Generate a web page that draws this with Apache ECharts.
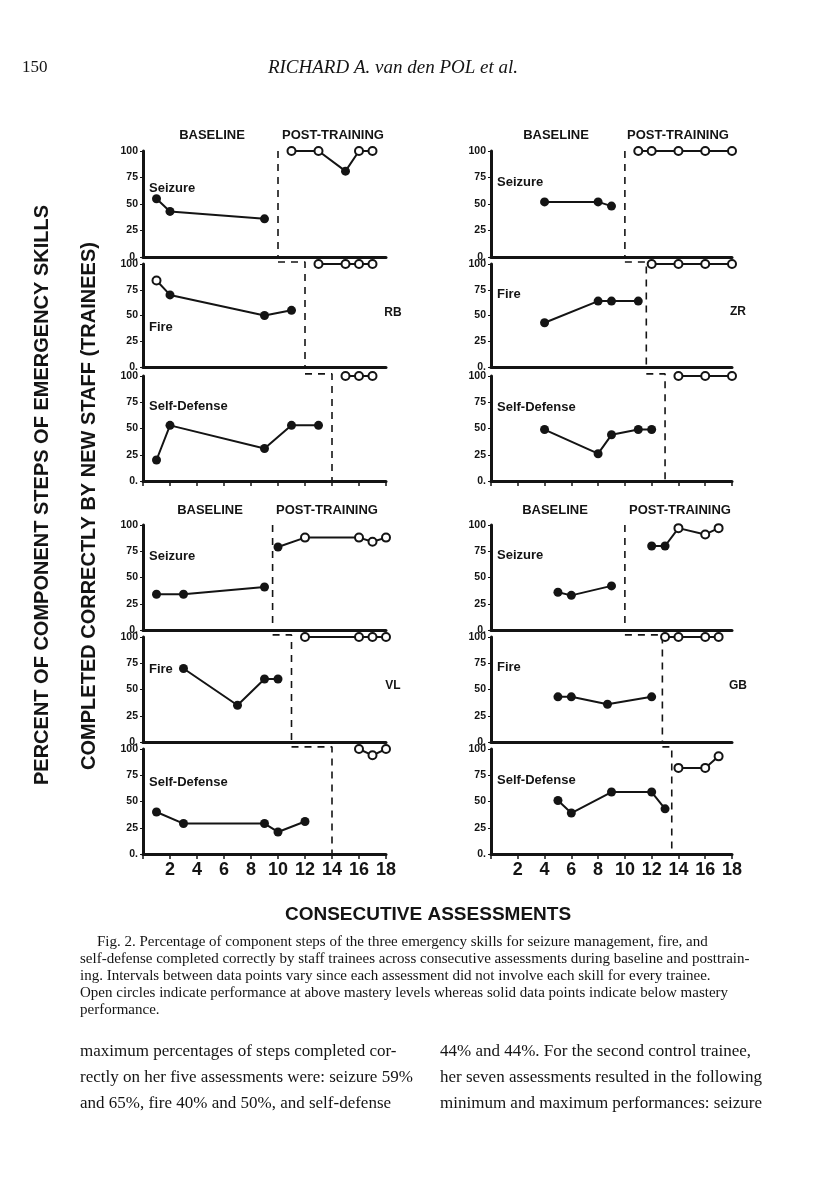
<!DOCTYPE html>
<html>
<head>
<meta charset="utf-8">
<script src="https://cdn.jsdelivr.net/npm/echarts@6/dist/echarts.min.js"></script>
<style>
html,body{margin:0;padding:0;background:#fff;}
#chart{width:816px;height:1195px;}
</style>
</head>
<body>
<div id="chart"></div>
<script>
// ---- data: [assessment, percent, open(1)/solid(0)] ----
const RB_seizure_base = [[1,55,0],[2,43,0],[9,36,0]];
const RB_seizure_post = [[11,100,1],[13,100,1],[15,81,0],[16,100,1],[17,100,1]];
const RB_fire_base = [[1,84,1],[2,70,0],[9,50,0],[11,55,0]];
const RB_fire_post = [[13,100,1],[15,100,1],[16,100,1],[17,100,1]];
const RB_sd_base = [[1,20,0],[2,53,0],[9,31,0],[11,53,0],[13,53,0]];
const RB_sd_post = [[15,100,1],[16,100,1],[17,100,1]];
const RB_phase = [10, 12, 14];

const ZR_seizure_base = [[4,52,0],[8,52,0],[9,48,0]];
const ZR_seizure_post = [[11,100,1],[12,100,1],[14,100,1],[16,100,1],[18,100,1]];
const ZR_fire_base = [[4,43,0],[8,64,0],[9,64,0],[11,64,0]];
const ZR_fire_post = [[12,100,1],[14,100,1],[16,100,1],[18,100,1]];
const ZR_sd_base = [[4,49,0],[8,26,0],[9,44,0],[11,49,0],[12,49,0]];
const ZR_sd_post = [[14,100,1],[16,100,1],[18,100,1]];
const ZR_phase = [10, 11.6, 13];

const VL_seizure_base = [[1,34,0],[3,34,0],[9,41,0]];
const VL_seizure_post = [[10,79,0],[12,88,1],[16,88,1],[17,84,1],[18,88,1]];
const VL_fire_base = [[3,70,0],[7,35,0],[9,60,0],[10,60,0]];
const VL_fire_post = [[12,100,1],[16,100,1],[17,100,1],[18,100,1]];
const VL_sd_base = [[1,40,0],[3,29,0],[9,29,0],[10,21,0],[12,31,0]];
const VL_sd_post = [[16,100,1],[17,94,1],[18,100,1]];
const VL_phase = [9.6, 11, 14];

const GB_seizure_base = [[5,36,0],[6,33,0],[9,42,0]];
const GB_seizure_post = [[12,80,0],[13,80,0],[14,97,1],[16,91,1],[17,97,1]];
const GB_fire_base = [[5,43,0],[6,43,0],[8.7,36,0],[12,43,0]];
const GB_fire_post = [[13,100,1],[14,100,1],[16,100,1],[17,100,1]];
const GB_sd_base = [[5,51,0],[6,39,0],[9,59,0],[12,59,0],[13,43,0]];
const GB_sd_post = [[14,82,1],[16,82,1],[17,93,1]];
const GB_phase = [10, 12.8, 13.5];

const yTicks = [0, 25, 50, 75, 100];
const xTickLabels = ['2','4','6','8','10','12','14','16','18'];
const skills = ['Seizure', 'Fire', 'Self-Defense'];
const trainees = ['RB', 'ZR', 'VL', 'GB'];
const phaseTitles = ['BASELINE', 'POST-TRAINING'];

// ---- layout ----
const cols = [{left:143, width:243}, {left:491, width:241}];
const blocks = [
  [[151,257],[264,367],[376,481]],
  [[525,630],[637,742],[749,854]]
];
const panels = [
  {name:'RB', col:0, block:0, data:[[RB_seizure_base,RB_seizure_post],[RB_fire_base,RB_fire_post],[RB_sd_base,RB_sd_post]], phase:RB_phase,
   labelY:[190,329,408], nameXY:[393,313]},
  {name:'ZR', col:1, block:0, data:[[ZR_seizure_base,ZR_seizure_post],[ZR_fire_base,ZR_fire_post],[ZR_sd_base,ZR_sd_post]], phase:ZR_phase,
   labelY:[184,296,409], nameXY:[738,312]},
  {name:'VL', col:0, block:1, data:[[VL_seizure_base,VL_seizure_post],[VL_fire_base,VL_fire_post],[VL_sd_base,VL_sd_post]], phase:VL_phase,
   labelY:[558,671,784], nameXY:[393,686]},
  {name:'GB', col:1, block:1, data:[[GB_seizure_base,GB_seizure_post],[GB_fire_base,GB_fire_post],[GB_sd_base,GB_sd_post]], phase:GB_phase,
   labelY:[557,669,782], nameXY:[738,686]}
];

const INK = '#141414';
const SANS = '"Liberation Sans", Arial, Helvetica, sans-serif';
const SERIF = '"Liberation Serif", "Times New Roman", serif';

const grid = [], xAxis = [], yAxis = [], series = [], graphic = [];

function pt(p){
  const open = p[2] === 1;
  return {
    value:[p[0], p[1]],
    symbolSize: open ? 8 : 9,
    itemStyle: open ? {color:'#fff', borderColor:INK, borderWidth:2} : {color:INK, borderColor:INK, borderWidth:0}
  };
}

panels.forEach(function(P){
  const c = cols[P.col];
  for (let s = 0; s < 3; s++) {
    const r = blocks[P.block][s];
    const gi = grid.length;
    grid.push({left:c.left, top:r[0], width:c.width, height:r[1]-r[0]});
    const isBottom = s === 2;
    const showLabels = isBottom && P.block === 1;
    xAxis.push({
      type:'value', gridIndex:gi, min:0, max:18, interval:2,
      axisLine:{show:true, onZero:false, lineStyle:{color:INK, width:3}},
      axisTick:{show:isBottom, inside:false, length:5, lineStyle:{color:INK, width:1.5}},
      axisLabel:{show:showLabels, margin:7, color:INK, fontFamily:SANS, fontWeight:'bold', fontSize:18,
        formatter:function(v){ const i = v/2 - 1; return (i >= 0 && i < xTickLabels.length) ? xTickLabels[i] : ''; }},
      splitLine:{show:false}
    });
    yAxis.push({
      type:'value', gridIndex:gi, min:yTicks[0], max:yTicks[yTicks.length-1], interval:25,
      axisLine:{show:true, onZero:false, lineStyle:{color:INK, width:3}},
      axisTick:{show:true, length:3, lineStyle:{color:INK, width:1}},
      axisLabel:{show:true, margin:5, color:INK, fontFamily:SANS, fontWeight:'bold', fontSize:10.5,
        formatter:function(v){ return v === 0 ? '0.' : String(v); }},
      splitLine:{show:false}
    });
    const pair = P.data[s];
    pair.forEach(function(seg){
      series.push({
        type:'line', xAxisIndex:gi, yAxisIndex:gi,
        data: seg.map(pt),
        symbol:'circle', showSymbol:true,
        lineStyle:{color:INK, width:2},
        clip:false, silent:true, animation:false, z:3
      });
    });
    // phase change (dashed staircase)
    let ph;
    if (s === 0) ph = [[P.phase[0],100],[P.phase[0],0]];
    else ph = [[P.phase[s-1],102],[P.phase[s],102],[P.phase[s],0]];
    series.push({
      type:'line', xAxisIndex:gi, yAxisIndex:gi, data:ph, symbol:'none',
      lineStyle:{color:INK, width:1.6, type:[7,6]},
      clip:false, silent:true, animation:false, z:2
    });
    // skill label
    graphic.push({type:'text', left: c.left + 6, top: P.labelY[s] - 8,
      style:{text:skills[s], font:'bold 13px ' + SANS, fill:INK}});
  }
  graphic.push({type:'text', x:P.nameXY[0], y:P.nameXY[1],
    style:{text:P.name, font:'bold 12px ' + SANS, fill:INK, textAlign:'center', textVerticalAlign:'middle'}});
});

// phase titles
[[212,333,135],[556,678,135],[210,327,510],[555,680,510]].forEach(function(t){
  graphic.push({type:'text', x:t[0], y:t[2], style:{text:phaseTitles[0], font:'bold 13px ' + SANS, fill:INK, textAlign:'center', textVerticalAlign:'middle'}});
  graphic.push({type:'text', x:t[1], y:t[2], style:{text:phaseTitles[1], font:'bold 13px ' + SANS, fill:INK, textAlign:'center', textVerticalAlign:'middle'}});
});

// axis titles
graphic.push({type:'text', x:42, y:495, rotation:Math.PI/2,
  style:{text:'PERCENT OF COMPONENT STEPS OF EMERGENCY SKILLS', font:'bold 20px ' + SANS, fill:INK, textAlign:'center', textVerticalAlign:'middle'}});
graphic.push({type:'text', x:89, y:506, rotation:Math.PI/2,
  style:{text:'COMPLETED CORRECTLY BY NEW STAFF (TRAINEES)', font:'bold 20px ' + SANS, fill:INK, textAlign:'center', textVerticalAlign:'middle'}});
graphic.push({type:'text', x:428, y:915,
  style:{text:'CONSECUTIVE ASSESSMENTS', font:'bold 19px ' + SANS, fill:INK, textAlign:'center', textVerticalAlign:'middle'}});

// page header
graphic.push({type:'text', x:22, y:68, style:{text:'150', font:'17px ' + SERIF, fill:INK, textVerticalAlign:'middle'}});
graphic.push({type:'text', x:393, y:68, style:{text:'RICHARD A. van den POL et al.', font:'italic 19px ' + SERIF, fill:INK, textAlign:'center', textVerticalAlign:'middle'}});

// caption
const caption = [
  [97, 'Fig. 2. Percentage of component steps of the three emergency skills for seizure management, fire, and'],
  [80, 'self-defense completed correctly by staff trainees across consecutive assessments during baseline and posttrain-'],
  [80, 'ing. Intervals between data points vary since each assessment did not involve each skill for every trainee.'],
  [80, 'Open circles indicate performance at above mastery levels whereas solid data points indicate below mastery'],
  [80, 'performance.']
];
caption.forEach(function(l, i){
  graphic.push({type:'text', x:l[0], y:942 + i*17, style:{text:l[1], font:'15px ' + SERIF, fill:INK, textVerticalAlign:'middle'}});
});

// body text
const bodyLeft = ['maximum percentages of steps completed cor-', 'rectly on her five assessments were: seizure 59%', 'and 65%, fire 40% and 50%, and self-defense'];
const bodyRight = ['44% and 44%. For the second control trainee,', 'her seven assessments resulted in the following', 'minimum and maximum performances: seizure'];
bodyLeft.forEach(function(t, i){
  graphic.push({type:'text', x:80, y:1052 + i*26, style:{text:t, font:'17px ' + SERIF, fill:INK, textVerticalAlign:'middle'}});
});
bodyRight.forEach(function(t, i){
  graphic.push({type:'text', x:440, y:1052 + i*26, style:{text:t, font:'17px ' + SERIF, fill:INK, textVerticalAlign:'middle'}});
});

const chart = echarts.init(document.getElementById('chart'), null, {renderer:'canvas'});
chart.setOption({
  animation:false,
  backgroundColor:'#fff',
  grid:grid, xAxis:xAxis, yAxis:yAxis, series:series, graphic:graphic
});
</script>
</body>
</html>
